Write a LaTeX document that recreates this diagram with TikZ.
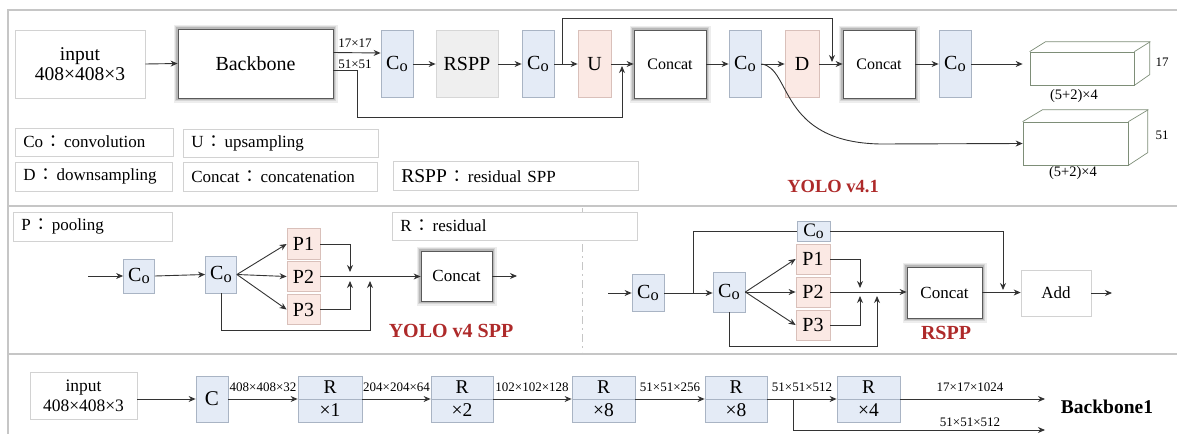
\documentclass[tikz,border=0pt]{standalone}
\usepackage{fontspec}
\setmainfont{Liberation Serif}
\newfontfamily\cjkfont{Noto Sans CJK TC}
\usepackage{graphicx}
\usetikzlibrary{arrows.meta}
\definecolor{cofill}{HTML}{E4EBF6}
\definecolor{coedge}{HTML}{A9B4C4}
\definecolor{pkfill}{HTML}{FBE9E4}
\definecolor{pkedge}{HTML}{D9C0BA}
\definecolor{gyfill}{HTML}{EFEFEF}
\definecolor{gyedge}{HTML}{D6D6D6}
\definecolor{lgedge}{HTML}{D2D2D2}
\definecolor{frame}{HTML}{C6C6C6}
\definecolor{redc}{HTML}{AE2A2A}
\definecolor{cubec}{HTML}{7E8E78}
\definecolor{ink}{HTML}{333333}
\newcommand\myfs[1]{\fontsize{#1}{#1}\selectfont}
\newcommand\myCo{C\raisebox{-0.12em}{\scalebox{0.82}{o}}}
\newcommand\fcolon{\hspace{1.5pt}{\cjkfont ：}\hspace{2.5pt}}
\begin{document}
\begin{tikzpicture}[x=1pt,y=-1pt,
  plain/.style={draw=lgedge,line width=0.7pt,fill=white,inner sep=0pt,align=center},
  legend/.style={draw=lgedge,line width=0.7pt,fill=white,inner xsep=8pt,inner ysep=0pt,align=left,anchor=west,minimum height=28pt,font=\myfs{17}},
  coblk/.style={draw=coedge,fill=cofill,line width=0.8pt,inner sep=0pt,minimum width=32pt,minimum height=67pt,font=\myfs{20}},
  pkblk/.style={draw=pkedge,fill=pkfill,line width=0.8pt,inner sep=0pt,minimum width=33pt,minimum height=67pt,font=\myfs{20}},
  gyblk/.style={draw=gyedge,fill=gyfill,line width=0.8pt,inner sep=0pt,minimum width=62pt,minimum height=67pt,font=\myfs{20}},
  shbox/.style={draw=black!65,line width=0.8pt,fill=white,
     preaction={draw=black!7,line width=9pt},
     preaction={draw=black!16,line width=6pt},
     preaction={draw=black!28,line width=3.5pt},inner sep=0pt,align=center},
  arr/.style={draw=ink,line width=0.9pt,-{Stealth[length=7pt,width=6pt]}},
  ln/.style={draw=ink,line width=0.9pt},
  cube/.style={draw=cubec,line width=0.7pt,fill=white,inner sep=0pt},
  cubeln/.style={draw=cubec,line width=0.7pt},
  redlbl/.style={text=redc,font=\bfseries\myfs{20}},
  tiny/.style={font=\myfs{13},inner sep=0pt},
  lab/.style={font=\myfs{13},inner sep=0pt},
  frm/.style={draw=frame,line width=1.2pt}]
\useasboundingbox (0,0) rectangle (1177,434);
% frames
\draw[frm] (1177,10) -- (8,10) -- (8,434);
\draw[frm] (8,206) -- (1177,206);
\draw[frm] (8,354) -- (1177,354);
\draw[draw=frame,line width=0.8pt,dash pattern=on 8pt off 4pt on 2pt off 4pt] (582,208) -- (582,352);

% ---------- top row ----------
\node[plain,minimum width=130pt,minimum height=68pt,font=\myfs{19.5}] (in1) at (80,64) {input\\[1pt]408×408×3};
\node[shbox,minimum width=155pt,minimum height=69pt,font=\myfs{20}] (bb) at (255.5,63.5) {Backbone};
\node[coblk] (co1) at (397,64) {\myCo};
\node[gyblk] (rspp) at (467,64) {RSPP};
\node[coblk] (co2) at (538,64) {\myCo};
\node[pkblk] (u) at (594.5,64) {U};
\node[shbox,minimum width=72pt,minimum height=68pt,font=\myfs{16}] (cat1) at (670,64) {Concat};
\node[coblk] (co3) at (745,64) {\myCo};
\node[pkblk,minimum width=34pt] (d) at (802,64) {D};
\node[shbox,minimum width=72pt,minimum height=68pt,font=\myfs{16}] (cat2) at (879,64) {Concat};
\node[coblk] (co4) at (955,64) {\myCo};

\node[tiny] (l17) at (355,43) {17×17};
\node[tiny] (l51) at (355,64) {51×51};

\draw[arr] (in1.east) -- (bb.west);
\draw[arr] ([yshift=11pt]bb.east) -- ([yshift=11pt]co1.west);
\coordinate (b2) at (333,70);
\coordinate (b2a) at (357,70);
\coordinate (b2b) at (357,117);
\coordinate (b2c) at (622,117);
\coordinate (b2d) at (622,66);
\draw[arr] (b2) -- (b2a) -- (b2b) -- (b2c) -- (b2d);
\draw[arr] (co1.east) -- (rspp.west);
\draw[arr] (rspp.east) -- (co2.west);
\draw[arr] (co2.east) -- (u.west);
\draw[arr] (u.east) -- (cat1.west);
\coordinate (s1) at (562,64);
\coordinate (s1t) at (562,18);
\coordinate (s2t) at (832,18);
\coordinate (s2) at (832,62);
\draw[arr] (s1) -- (s1t) -- (s2t) -- (s2);
\draw[arr] (cat1.east) -- (co3.west);
\draw[arr] (co3.east) -- (d.west);
\draw[arr] (d.east) -- (cat2.west);
\draw[arr] (cat2.east) -- (co4.west);

% output cubes
\node[cube,minimum width=104pt,minimum height=33pt] (cb1) at (1082,68.5) {};
\draw[cubeln] (cb1.north west) -- ++(16,-10) -- ++(104,0) -- ++(0,33) -- (cb1.south east);
\draw[cubeln] (cb1.north east) -- ++(16,-10);
\node[cube,minimum width=105pt,minimum height=43pt] (cb2) at (1075.5,143.5) {};
\draw[cubeln] (cb2.north west) -- ++(20,-12) -- ++(105,0) -- ++(0,43) -- (cb2.south east);
\draw[cubeln] (cb2.north east) -- ++(20,-12);
\node[font=\myfs{13},inner sep=0pt] (n17) at (1162,62) {17};
\node[font=\myfs{13},inner sep=0pt] (n51) at (1162,135) {51};
\node[font=\myfs{14.5},inner sep=0pt] (k1) at (1074,96) {(5+2)×4};
\node[font=\myfs{14.5},inner sep=0pt] (k2) at (1073,173) {(5+2)×4};
\draw[arr,shorten >=7pt] (co4.east) -- (co4.east -| cb1.west);
\draw[arr] (co3.east) .. controls (792,68) and (778,142) .. (880,144) -- (cb2.west);

\node[redlbl,font=\bfseries\myfs{18.5}] (yolo41) at (833,187) {YOLO v4.1};

% legend
\node[legend,text width=142pt] (lg1) at (15,142) {Co\fcolon convolution};
\node[legend,text width=179pt] (lg2) at (183,143) {U\fcolon upsampling};
\node[legend,text width=141pt,minimum height=29pt] (lg3) at (15,176.5) {D\fcolon downsampling};
\node[legend,text width=178pt,minimum height=29pt] (lg4) at (183,176.5) {Concat\fcolon concatenation};
\node[legend,text width=229pt,minimum height=29pt] (lg5) at (393,176) {{\myfs{19.5}RSPP}\fcolon residual SPP};

% ---------- middle left: YOLO v4 SPP ----------
\node[legend,text width=143pt,minimum height=29pt] (lg6) at (13,226.5) {P\fcolon pooling};
\node[legend,text width=229pt] (lg7) at (392,226) {R\fcolon residual};

\coordinate (sa) at (88,276);
\node[coblk,minimum width=31pt,minimum height=34pt,font=\myfs{20}] (ca) at (139,276) {\myCo};
\node[coblk,minimum width=31pt,minimum height=37pt,font=\myfs{20}] (cb) at (221,274.5) {\myCo};
\node[pkblk,minimum height=31pt,font=\myfs{20}] (p1) at (303.5,244) {P1};
\node[pkblk,minimum height=30pt,font=\myfs{20}] (p2) at (303.5,276.5) {P2};
\node[pkblk,minimum height=30pt,font=\myfs{20}] (p3) at (303.5,309.5) {P3};
\node[shbox,minimum width=71pt,minimum height=50pt,font=\myfs{17}] (catl) at (456.5,276) {Concat};
\coordinate (ol) at (517,276);
\draw[arr] (sa) -- (ca.west);
\draw[arr] (ca.east) -- (cb.west);
\draw[arr] (cb.east) -- (p1.west);
\draw[arr] (cb.east) -- (p2.west);
\draw[arr] (cb.east) -- (p3.west);
\draw[arr] (p2.east) -- (p2.east -| catl.west);
\coordinate (j1) at (350,244);
\coordinate (j1e) at (350,272);
\draw[arr] (p1.east) -- (j1) -- (j1e);
\coordinate (j3) at (350,309.5);
\coordinate (j3e) at (350,281);
\draw[arr] (p3.east) -- (j3) -- (j3e);
\coordinate (jb) at (221,330);
\coordinate (jc) at (370,330);
\coordinate (jce) at (370,281);
\draw[arr] (cb.south) -- (jb) -- (jc) -- (jce);
\draw[arr] (catl.east) -- (ol);
\node[redlbl] (spp) at (451,331) {YOLO v4 SPP};

% ---------- middle right: RSPP ----------
\coordinate (sr) at (608,293);
\node[coblk,minimum width=32pt,minimum height=37pt,font=\myfs{20}] (cc) at (648,293) {\myCo};
\node[coblk,minimum width=32pt,minimum height=40pt,font=\myfs{20}] (cd) at (729,292) {\myCo};
\node[coblk,minimum width=33pt,minimum height=20pt,font=\myfs{19}] (ct) at (813.5,231) {\myCo};
\node[pkblk,minimum width=34pt,minimum height=30pt,font=\myfs{20}] (q1) at (813,259) {P1};
\node[pkblk,minimum width=34pt,minimum height=30pt,font=\myfs{20}] (q2) at (813,292) {P2};
\node[pkblk,minimum width=34pt,minimum height=30pt,font=\myfs{20}] (q3) at (813,325) {P3};
\node[shbox,minimum width=75pt,minimum height=51pt,font=\myfs{17}] (catr) at (944.5,292.5) {Concat};
\node[plain,minimum width=70pt,minimum height=46pt,font=\myfs{17}] (add) at (1056,293) {Add};
\coordinate (or) at (1112,293);
\draw[arr] (sr) -- (cc.west);
\draw[arr] (cc.east) -- (cc.east -| cd.west);
\coordinate (br) at (693,293);
\coordinate (brt) at (693,231);
\draw[ln] (br) -- (brt) -- (ct.west);
\coordinate (ctr) at (1003,231);
\coordinate (ctre) at (1003,290);
\draw[arr] (ct.east) -- (ctr) -- (ctre);
\draw[arr] (cd.east) -- (q1.west);
\draw[arr] (cd.east) -- (q2.west);
\draw[arr] (cd.east) -- (q3.west);
\draw[arr] (q2.east) -- (q2.east -| catr.west);
\coordinate (k1a) at (860,259);
\coordinate (k1b) at (860,288);
\draw[arr] (q1.east) -- (k1a) -- (k1b);
\coordinate (k3a) at (860,325);
\coordinate (k3b) at (860,296);
\draw[arr] (q3.east) -- (k3a) -- (k3b);
\coordinate (kd) at (729,346);
\coordinate (ke) at (877,346);
\coordinate (kee) at (877,296);
\draw[arr] (cd.south) -- (kd) -- (ke) -- (kee);
\draw[arr] (catr.east) -- (catr.east -| add.west);
\draw[arr] (add.east) -- (or);
\node[redlbl] (rsppl) at (946,333) {RSPP};

% ---------- bottom row: backbone ----------
\node[plain,minimum width=107pt,minimum height=47pt,font=\myfs{17.5}] (in2) at (83.5,396) {input\\[2pt]408×408×3};
\node[coblk,minimum width=32pt,minimum height=46pt,font=\myfs{21}] (c) at (212,399) {C};
\draw[arr] (in2.east |- c) -- (c.west);
\foreach \nm/\cx/\w/\m in {r1/330/64/1, r2/462/62/2, r3/603.5/63/8, r4/736/62/8, r5/868.5/63/4}{
  \node[coblk,minimum width=\w pt,minimum height=46pt] (\nm) at (\cx,399) {};
  \draw[draw=coedge,line width=0.8pt] (\nm.west) -- (\nm.east);
  \node[font=\myfs{19.5},inner sep=0pt] (\nm t) at ([yshift=11.5pt]\nm.center) {R};
  \node[font=\myfs{19.5},inner sep=0pt] (\nm b) at ([yshift=-11.5pt]\nm.center) {×\m};
}
\draw[arr] (c.east) -- (r1.west);
\draw[arr] (r1.east) -- (r2.west);
\draw[arr] (r2.east) -- (r3.west);
\draw[arr] (r3.east) -- (r4.west);
\draw[arr] (r4.east) -- (r5.west);
\coordinate (e1) at (1045,399);
\draw[arr] (r5.east) -- (e1);
\coordinate (g1) at (793,399);
\coordinate (g2) at (793,430);
\coordinate (g3) at (1045,430);
\draw[arr] (g1) -- (g2) -- (g3);
\node[lab] (t1) at (263,387) {408×408×32};
\node[lab] (t2) at (396.5,387) {204×204×64};
\node[lab] (t3) at (532,387) {102×102×128};
\node[lab] (t4) at (670,387) {51×51×256};
\node[lab] (t5) at (802,387) {51×51×512};
\node[lab] (t6) at (970,387) {17×17×1024};
\node[lab] (t7) at (970,422) {51×51×512};
\node[font=\bfseries\myfs{19.5},inner sep=0pt] (bb1) at (1107,407) {Backbone1};
\end{tikzpicture}
\end{document}
